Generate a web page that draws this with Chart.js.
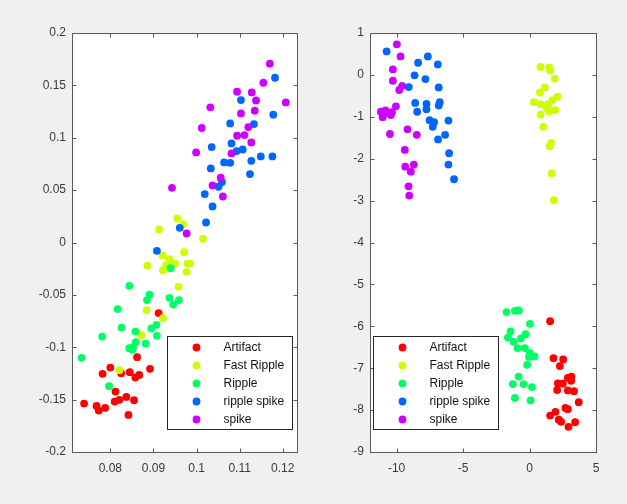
<!DOCTYPE html>
<html><head><meta charset="utf-8">
<script src="https://cdn.jsdelivr.net/npm/chart.js@4/dist/chart.umd.min.js"></script>
<style>
html,body{margin:0;padding:0;background:#f0f0f0;}
#wrap{position:relative;width:627px;height:504px;overflow:hidden;background:#f0f0f0;}
canvas{position:absolute;top:0;}
</style></head><body>
<div id="wrap">
<canvas id="c1" width="310" height="504" style="left:0"></canvas>
<canvas id="c2" width="317" height="504" style="left:310px"></canvas>
</div>
<script>
const categories = ['Artifact','Fast Ripple','Ripple','ripple spike','spike'];
const colors = ['#ff0000','#ccff00','#00ff66','#0066ff','#cc00ff'];

// Left subplot
const artL_x = [0.0912,0.0862,0.0800,0.0782,0.0825,0.0845,0.0867,0.0858,0.0892,0.0812,0.0810,0.0821,0.0837,0.0855,0.0739,0.0768,0.0773,0.0788,0.0842];
const artL_y = [-0.0674,-0.1095,-0.1194,-0.1254,-0.1248,-0.1238,-0.1264,-0.1289,-0.1206,-0.1423,-0.1519,-0.1502,-0.1474,-0.1505,-0.1538,-0.1560,-0.1605,-0.1579,-0.1646];
const fastL_x = [0.0955,0.0969,0.0913,0.1015,0.0921,0.0937,0.0971,0.0950,0.0979,0.0985,0.0930,0.0886,0.0922,0.0977,0.0958,0.0884,0.0922,0.0872,0.0821];
const fastL_y = [0.0229,0.0172,0.0124,0.0035,-0.0124,-0.0159,-0.0092,-0.0201,-0.0201,-0.0201,-0.0213,-0.0220,-0.0267,-0.0280,-0.0423,-0.0646,-0.0722,-0.0885,-0.1219];
const ripL_x = [0.0940,0.0844,0.0891,0.0885,0.0937,0.0959,0.0946,0.0817,0.0826,0.0858,0.0895,0.0907,0.0908,0.0781,0.0859,0.0882,0.0853,0.0844,0.0851,0.0733,0.0797];
const ripL_y = [-0.0245,-0.0414,-0.0497,-0.0550,-0.0528,-0.0550,-0.0592,-0.0636,-0.0812,-0.0850,-0.0821,-0.0786,-0.0891,-0.0898,-0.0951,-0.0965,-0.0996,-0.1009,-0.1025,-0.1101,-0.1372];
const rsL_x = [0.1182,0.1103,0.1178,0.1078,0.1133,0.1035,0.1081,0.1107,0.1093,0.1149,0.1176,0.1064,0.1078,0.1127,0.1033,0.1124,0.1059,0.1051,0.1019,0.1037,0.1022,0.0961,0.0908];
const rsL_y = [0.1573,0.1360,0.1220,0.1137,0.1131,0.0911,0.0946,0.0888,0.0873,0.0822,0.0822,0.0764,0.0761,0.0780,0.0707,0.0653,0.0577,0.0532,0.0462,0.0344,0.0191,0.0140,-0.0079];
const spL_x = [0.1170,0.1155,0.1094,0.1128,0.1138,0.1207,0.1032,0.1103,0.1135,0.1012,0.1120,0.1094,0.1111,0.1127,0.0999,0.1081,0.1056,0.1037,0.0943,0.1061,0.0977];
const spL_y = [0.1707,0.1525,0.1439,0.1433,0.1356,0.1337,0.1290,0.1232,0.1258,0.1093,0.1102,0.1019,0.1026,0.0955,0.0860,0.0850,0.0618,0.0544,0.0522,0.0439,0.0086];

// Right subplot
const artR_x = [1.55,1.80,2.53,2.28,2.88,3.15,3.13,2.13,2.50,2.08,2.88,3.35,3.70,2.70,2.88,1.95,1.55,2.20,2.38,3.43,2.93];
const artR_y = [-5.88,-6.76,-6.79,-6.95,-7.23,-7.20,-7.30,-7.36,-7.37,-7.52,-7.53,-7.55,-7.81,-7.95,-7.98,-8.04,-8.13,-8.23,-8.28,-8.29,-8.40];
const fastR_x = [0.83,1.48,1.55,1.90,1.15,0.78,2.10,1.73,0.33,0.83,1.40,1.28,1.93,1.48,0.83,1.03,1.63,1.50,1.68,1.83];
const fastR_y = [0.19,0.18,0.10,-0.09,-0.30,-0.42,-0.52,-0.60,-0.65,-0.70,-0.70,-0.79,-0.84,-0.87,-0.95,-1.24,-1.62,-1.70,-2.35,-2.99];
const ripR_x = [-1.73,-1.10,-0.80,0.03,-1.43,-1.63,-1.20,-0.30,-0.65,-0.90,-0.35,0.03,0.38,-0.05,-0.18,-0.83,-1.25,-0.45,0.18,-1.10,0.08];
const ripR_y = [-5.66,-5.63,-5.62,-5.94,-6.12,-6.27,-6.37,-6.19,-6.29,-6.52,-6.52,-6.64,-6.72,-6.73,-6.92,-7.20,-7.38,-7.38,-7.45,-7.71,-7.77];
const rsR_x = [-10.75,-9.08,-8.65,-8.38,-7.65,-7.83,-6.90,-6.83,-8.60,-8.45,-7.75,-7.75,-6.75,-6.83,-7.52,-7.18,-7.28,-6.10,-6.88,-6.35,-6.05,-6.10,-5.68];
const rsR_y = [0.56,-0.29,-0.01,0.29,0.44,-0.10,0.25,-0.30,-0.67,-0.88,-0.69,-0.82,-0.65,-0.73,-1.08,-1.13,-1.24,-1.09,-1.54,-1.43,-1.87,-2.14,-2.49];
const spR_x = [-9.98,-9.70,-10.28,-10.28,-9.80,-9.58,-10.05,-10.35,-10.43,-10.83,-11.18,-11.05,-10.93,-10.50,-9.18,-8.48,-9.38,-9.35,-8.70,-8.93,-9.10,-9.05];
const spR_y = [0.73,0.44,0.13,-0.14,-0.36,-0.26,-0.75,-0.89,-0.96,-0.85,-0.88,-1.01,-0.92,-1.41,-1.30,-1.43,-1.79,-2.19,-2.14,-2.31,-2.66,-2.88];

const xTicksL = [0.08,0.09,0.1,0.11,0.12];
const yTicksL = [-0.2,-0.15,-0.1,-0.05,0,0.05,0.1,0.15,0.2];
const xTicksR = [-10,-5,0,5];
const yTicksR = [-9,-8,-7,-6,-5,-4,-3,-2,-1,0,1];

const zip = (xs,ys) => xs.map((x,i)=>({x:x,y:ys[i]}));
const FONT = '"Liberation Sans", Arial, sans-serif';
const AX = '#5a5a5a';

function makeDatasets(pairs){
  return pairs.map((p,i)=>({
    label: categories[i],
    data: zip(p[0],p[1]),
    backgroundColor: colors[i],
    borderColor: colors[i],
    borderWidth: 0,
    pointRadius: 3.9,
    pointHoverRadius: 3.9,
    order: 5-i
  }));
}

const framePlugin = {
  id:'frame',
  beforeDraw(chart){
    const {ctx, chartArea:ca} = chart;
    ctx.save();
    ctx.fillStyle = '#ffffff';
    ctx.fillRect(ca.left, ca.top, ca.right-ca.left, ca.bottom-ca.top);
    ctx.restore();
  },
  afterDatasetsDraw(chart, args, opts){
    const {ctx, chartArea:ca, scales} = chart;
    const L = Math.round(ca.left)+0.5, R = Math.round(ca.right)+0.5, T = Math.round(ca.top)+0.5, B = Math.round(ca.bottom)+0.5;
    ctx.save();
    ctx.strokeStyle = AX; ctx.lineWidth = 1;
    ctx.beginPath();
    opts.xt.forEach(v=>{
      const px = Math.round(scales.x.getPixelForValue(v))+0.5;
      ctx.moveTo(px,B); ctx.lineTo(px,B-4);
      ctx.moveTo(px,T); ctx.lineTo(px,T+4);
    });
    opts.yt.forEach(v=>{
      const py = Math.round(scales.y.getPixelForValue(v))+0.5;
      ctx.moveTo(L,py); ctx.lineTo(L+4,py);
      ctx.moveTo(R,py); ctx.lineTo(R-4,py);
    });
    ctx.stroke();
    ctx.strokeRect(L, T, R-L, B-T);
    ctx.restore();
  }
};

const legendPlugin = {
  id:'boxLegend',
  afterDraw(chart, args, opts){
    const ctx = chart.ctx, ca = chart.chartArea;
    const w = 125, h = 93;
    const x = Math.round(opts.side==='right' ? ca.right-5-w : ca.left+3) + 0.5;
    const y = Math.round(ca.bottom-23-h) + 0.5;
    ctx.save();
    ctx.fillStyle = '#fff'; ctx.fillRect(x,y,w,h);
    ctx.strokeStyle = '#262626'; ctx.lineWidth = 1; ctx.strokeRect(x,y,w,h);
    chart.data.datasets.forEach((ds,i)=>{
      const cy = y + 11 + i*18;
      ctx.fillStyle = ds.backgroundColor;
      ctx.beginPath(); ctx.arc(x+29, cy, 3.9, 0, Math.PI*2); ctx.fill();
      ctx.fillStyle = '#111';
      ctx.font = '12px ' + FONT;
      ctx.textBaseline = 'middle'; ctx.textAlign = 'left';
      ctx.fillText(ds.label, x+56, cy);
    });
    ctx.restore();
  }
};

const fmt = v => String(Number(Number(v).toFixed(4)));

function build(id, datasets, xmin, xmax, ymin, ymax, xt, yt, yw, padRight, side){
  return new Chart(document.getElementById(id), {
    type:'scatter',
    data:{datasets},
    options:{
      responsive:false, animation:false, devicePixelRatio:1,
      layout:{padding:{left:0,right:padRight,top:33,bottom:0}},
      plugins:{legend:{display:false}, tooltip:{enabled:false},
        frame:{xt, yt}, boxLegend:{side}},
      scales:{
        x:{type:'linear', min:xmin, max:xmax,
          grid:{display:false, drawTicks:false}, border:{display:false},
          afterBuildTicks: s => { s.ticks = xt.map(v=>({value:v})); },
          afterFit: s => { s.height = 52; },
          ticks:{padding:9, color:'#3a3a3a', font:{family:FONT, size:12}, maxRotation:0, autoSkip:false, callback: v => fmt(v)}},
        y:{type:'linear', min:ymin, max:ymax,
          grid:{display:false, drawTicks:false}, border:{display:false},
          afterBuildTicks: s => { s.ticks = yt.map(v=>({value:v})); },
          afterFit: s => { s.width = yw; },
          ticks:{padding:6, color:'#3a3a3a', font:{family:FONT, size:12}, autoSkip:false, callback: v => fmt(v)}}
      }
    },
    plugins:[framePlugin, legendPlugin]
  });
}

build('c1', makeDatasets([[artL_x,artL_y],[fastL_x,fastL_y],[ripL_x,ripL_y],[rsL_x,rsL_y],[spL_x,spL_y]]),
  0.0711, 0.1233, -0.2, 0.2, xTicksL, yTicksL, 72, 13, 'right');
build('c2', makeDatasets([[artR_x,artR_y],[fastR_x,fastR_y],[ripR_x,ripR_y],[rsR_x,rsR_y],[spR_x,spR_y]]),
  -12, 5, -9, 1, xTicksR, yTicksR, 60, 31, 'left');
</script>
</body></html>
